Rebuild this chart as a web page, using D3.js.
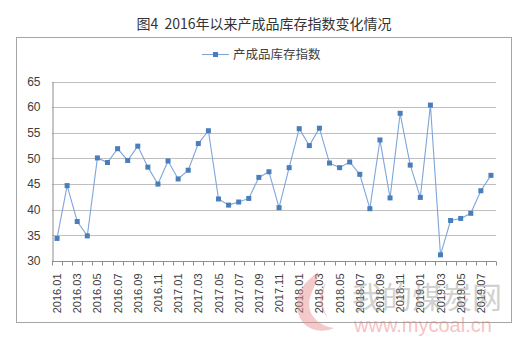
<!DOCTYPE html>
<html>
<head>
<meta charset="utf-8">
<script src="https://cdn.jsdelivr.net/npm/d3@7"></script>
<style>
  html, body { margin: 0; padding: 0; background: #fff; }
  svg { display: block; }
</style>
</head>
<body>
<svg id="chart" width="529" height="343"></svg>
<script>
// Monthly finished-goods inventory index, 2016.01 – 2019.08
const months = [];
for (let y = 2016; y <= 2019; y++) {
  for (let m = 1; m <= 12; m++) {
    if (y === 2019 && m > 8) break;
    months.push(y + "." + String(m).padStart(2, "0"));
  }
}
const indexValues = [
  34.4, 44.7, 37.7, 34.9, 50.1, 49.2, 51.9, 49.6, 52.4, 48.3, 45.0, 49.5,
  46.0, 47.7, 52.9, 55.4, 42.1, 40.9, 41.5, 42.2, 46.3, 47.4, 40.4, 48.2,
  55.8, 52.5, 55.9, 49.1, 48.2, 49.3, 46.9, 40.2, 53.6, 42.3, 58.8, 48.7,
  42.4, 60.4, 31.2, 37.9, 38.3, 39.3, 43.7, 46.7
];
const yTicks = [30, 35, 40, 45, 50, 55, 60, 65];
const titleText = "图4\u00a0\u00a02016年以来产成品库存指数变化情况";
const seriesName = "产成品库存指数";

const svg = d3.select("#chart");
const font = "'Microsoft YaHei', 'Noto Sans CJK SC', sans-serif";

// outer frame
svg.append("rect")
  .attr("x", 16.5).attr("y", 37.5).attr("width", 495).attr("height", 285)
  .attr("fill", "#fff").attr("stroke", "#a6a6a6").attr("stroke-width", 1);

// title
svg.append("text")
  .attr("x", 264).attr("y", 28.5)
  .attr("text-anchor", "middle")
  .attr("font-family", font).attr("font-size", 14)
  .attr("fill", "#333")
  .text(titleText);

const plot = { left: 52, right: 496, top: 81.5, bottom: 261 };

const x = d3.scaleBand().domain(months).range([plot.left, plot.right]);
const y = d3.scaleLinear().domain([30, 65]).range([plot.bottom, plot.top]);

// gridlines
svg.append("g")
  .selectAll("line")
  .data(yTicks.filter(t => t !== 30))
  .join("line")
  .attr("x1", plot.left).attr("x2", plot.right)
  .attr("y1", d => Math.round(y(d)) + 0.5).attr("y2", d => Math.round(y(d)) + 0.5)
  .attr("stroke", "#bfbfbf").attr("stroke-width", 1);

// y axis
const yAxis = svg.append("g")
  .attr("transform", `translate(${plot.left + 0.5},0)`)
  .call(d3.axisLeft(y).tickValues(yTicks).tickSize(0).tickPadding(12));
yAxis.select(".domain").attr("stroke", "#8c8c8c");
yAxis.selectAll("text")
  .attr("font-family", "'Liberation Sans', Arial, sans-serif")
  .attr("font-size", 12).attr("fill", "#404040");

// x axis: ticks at category boundaries, labels every second month
const xAxisG = svg.append("g")
  .attr("transform", `translate(0,${Math.round(plot.bottom) + 0.5})`);
xAxisG.append("line")
  .attr("x1", plot.left).attr("x2", plot.right)
  .attr("stroke", "#8c8c8c");
const boundaries = d3.range(months.length + 1).map(i => plot.left + i * x.step());
xAxisG.selectAll("line.tick")
  .data(boundaries)
  .join("line")
  .attr("class", "tick")
  .attr("x1", d => Math.round(d) + 0.5).attr("x2", d => Math.round(d) + 0.5)
  .attr("y1", 0).attr("y2", 4)
  .attr("stroke", "#8c8c8c");
xAxisG.selectAll("text")
  .data(months.filter((d, i) => i % 2 === 0))
  .join("text")
  .attr("transform", d => `translate(${x(d) + x.bandwidth() / 2 + 4},12) rotate(-90)`)
  .attr("text-anchor", "end")
  .attr("font-family", "'Liberation Sans', Arial, sans-serif")
  .attr("font-size", 11).attr("fill", "#404040")
  .text(d => d);

// series line
const line = d3.line()
  .x((d, i) => x(months[i]) + x.bandwidth() / 2)
  .y(d => y(d));
svg.append("path")
  .datum(indexValues)
  .attr("d", line)
  .attr("fill", "none")
  .attr("stroke", "#7ea6d9").attr("stroke-width", 1.1);

// markers
svg.append("g")
  .selectAll("rect")
  .data(indexValues)
  .join("rect")
  .attr("x", (d, i) => x(months[i]) + x.bandwidth() / 2 - 2.5)
  .attr("y", d => y(d) - 2.5)
  .attr("width", 5).attr("height", 5)
  .attr("fill", "#4a7ebb");

// legend
const lg = svg.append("g");
lg.append("line")
  .attr("x1", 202).attr("x2", 229).attr("y1", 54.5).attr("y2", 54.5)
  .attr("stroke", "#7ea6d9").attr("stroke-width", 1.1);
lg.append("rect")
  .attr("x", 213).attr("y", 52).attr("width", 5).attr("height", 5)
  .attr("fill", "#4a7ebb");
lg.append("text")
  .attr("x", 233).attr("y", 59)
  .attr("font-family", font).attr("font-size", 12.5)
  .attr("fill", "#404040")
  .text(seriesName);

// site watermark
const wm = svg.append("g").attr("opacity", 0.45);
wm.append("path")
  .attr("d", "M318,272 C300,285 292,300 300,318 C306,330 322,334 334,328 C318,326 306,314 310,298 C313,288 318,280 318,272 Z")
  .attr("fill", "#e88a8a");
wm.append("path")
  .attr("d", "M326,282 C318,294 318,308 328,318 C320,306 322,294 326,282 Z")
  .attr("fill", "#e88a8a");
wm.append("text")
  .attr("x", 352).attr("y", 308)
  .attr("font-family", font).attr("font-size", 30)
  .attr("fill", "#9a9a9a")
  .text("我的煤炭网");
wm.append("text")
  .attr("x", 354).attr("y", 332)
  .attr("font-family", "'Liberation Sans', Arial, sans-serif").attr("font-size", 20)
  .attr("fill", "#e77c7c")
  .text("www.mycoal.cn");
</script>
</body>
</html>
